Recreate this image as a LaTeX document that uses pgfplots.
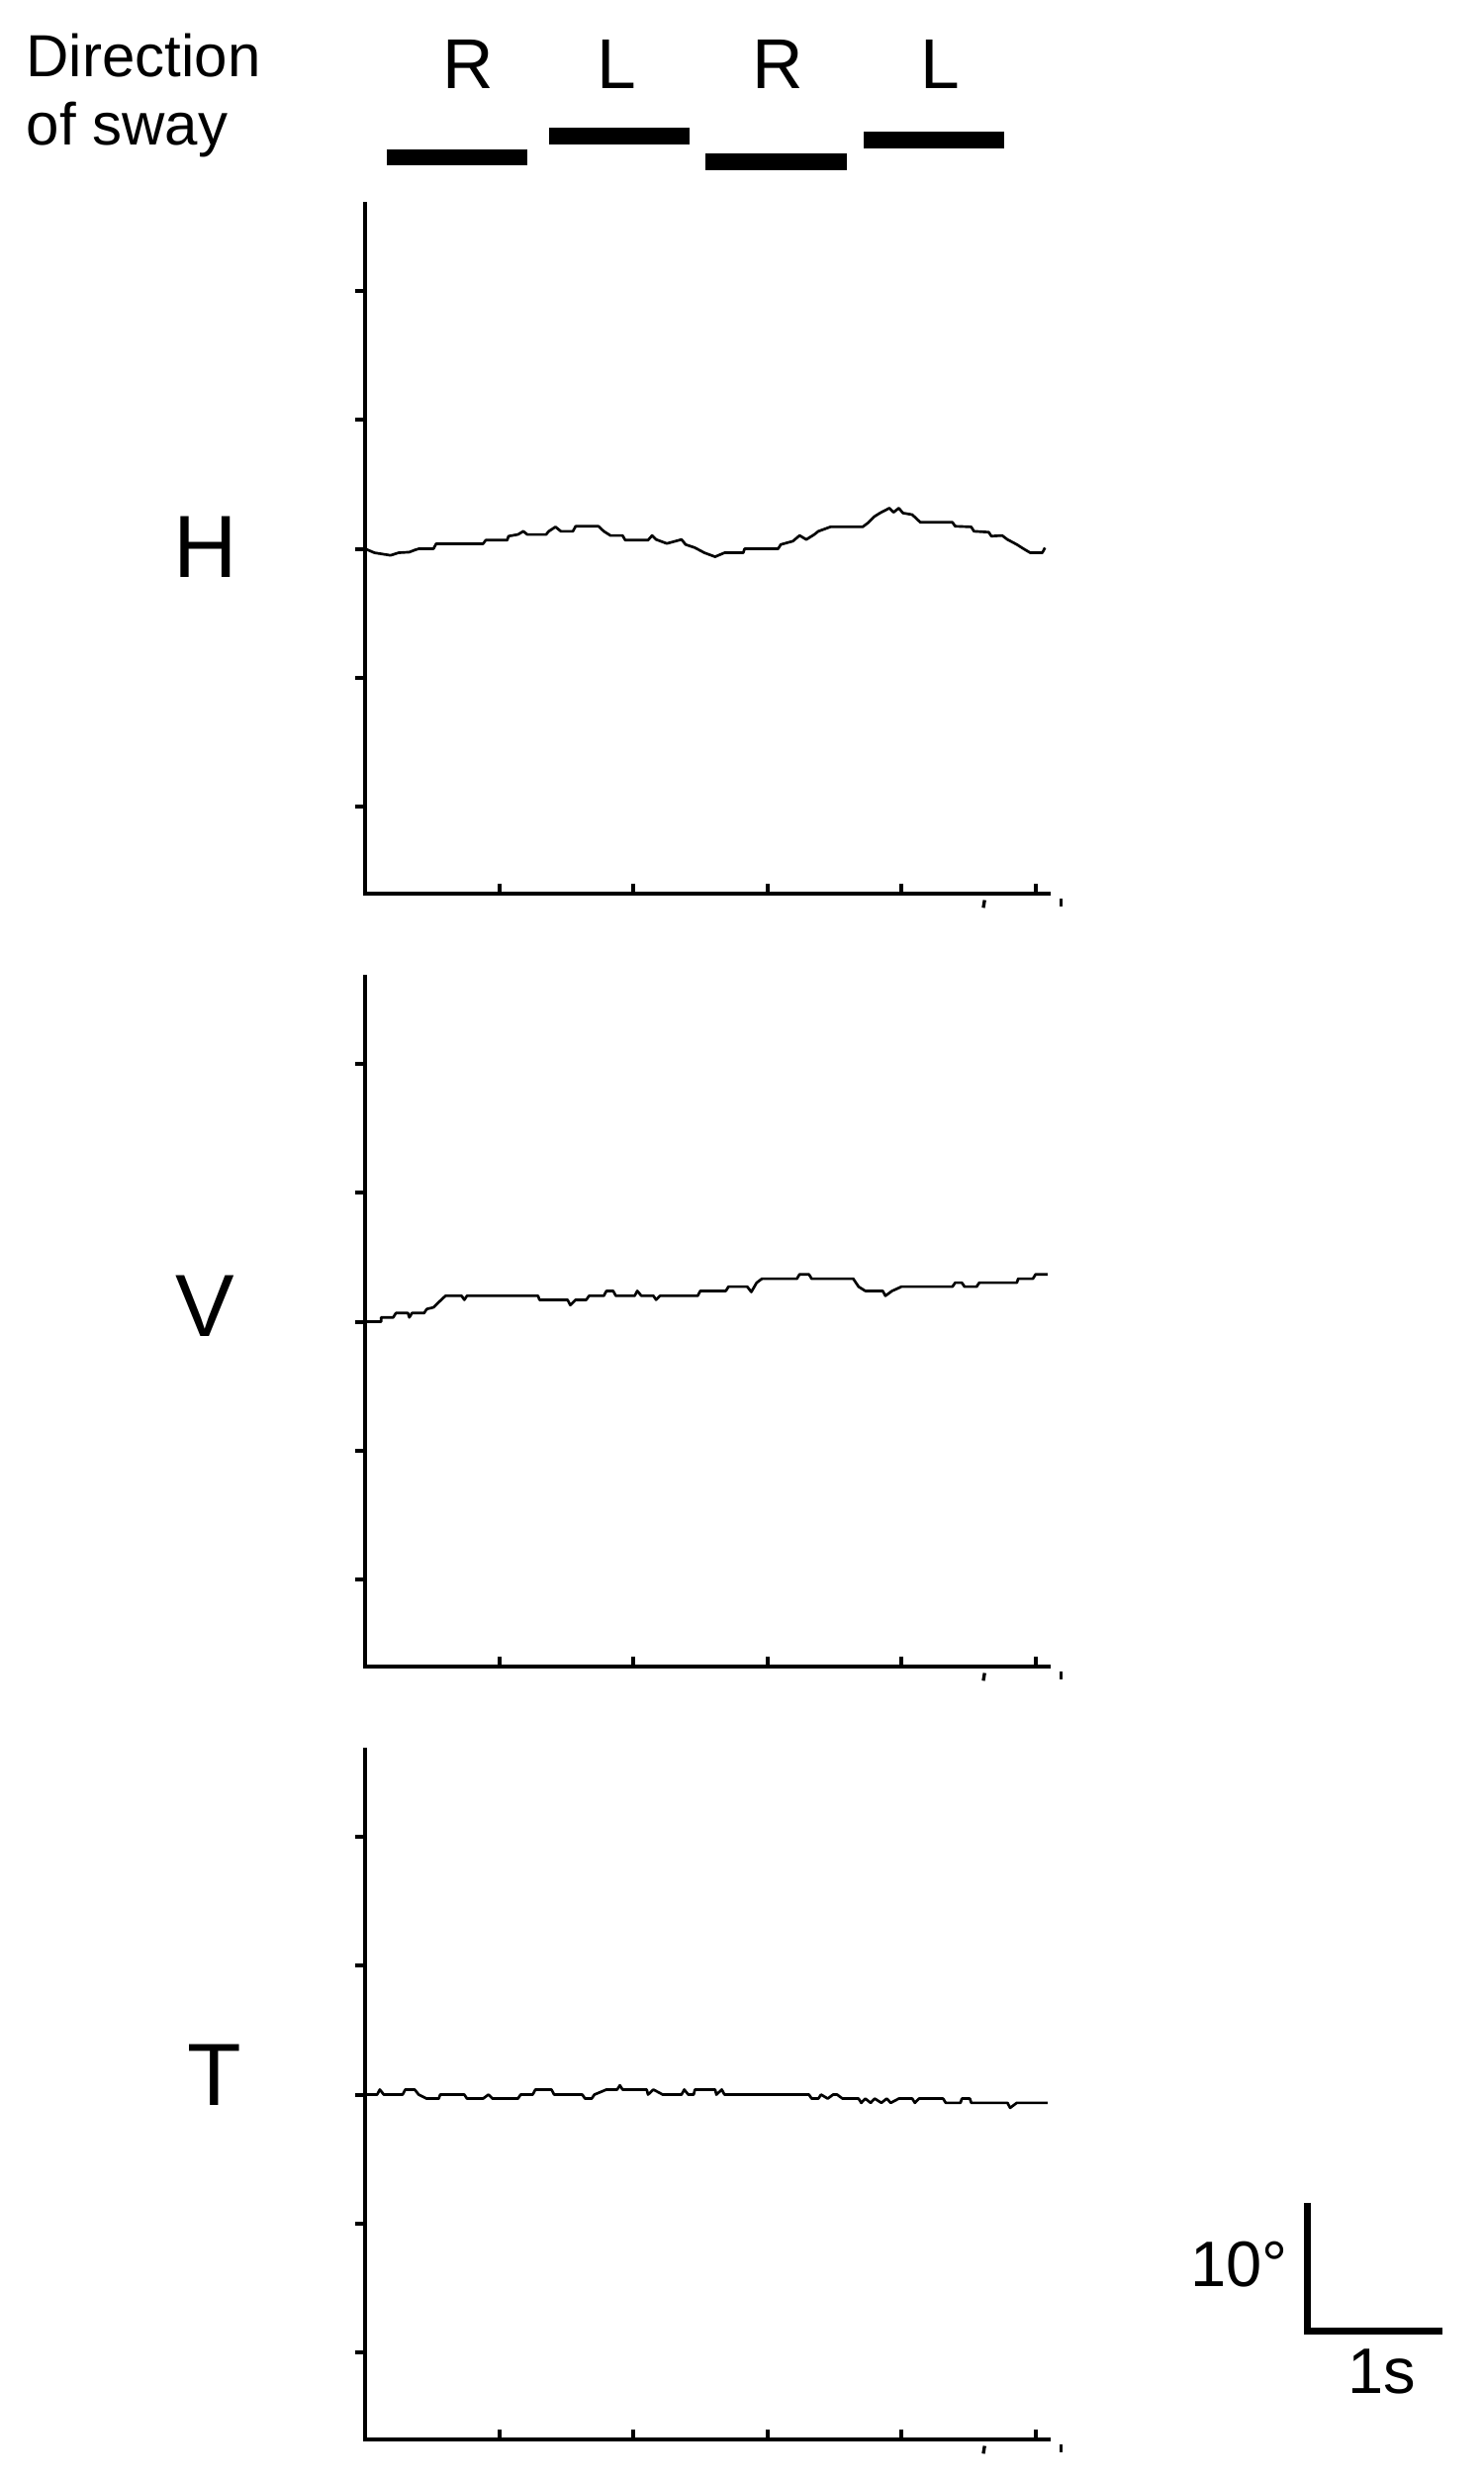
\documentclass[border=0pt]{standalone}
\usepackage{fontspec}
\setmainfont{Liberation Sans}
\usepackage{pgfplots}
\pgfplotsset{compat=1.18}

% one panel of the sway record
\pgfplotsset{
  sway/.style={
    anchor=south west,
    scale only axis,
    width=207.4pt, height=209.1pt,
    xmin=0, xmax=5.1, ymin=-26.8, ymax=26.8,
    axis lines=left,
    axis line style={-, line width=1.2pt, line cap=rect},
    xtick={1,2,3,4,5}, ytick={-20,-10,0,10,20},
    xticklabels={}, yticklabels={},
    xtick align=inside, ytick align=outside,
    major tick length=3pt,
    every tick/.style={black, line width=1.2pt},
    clip=false,
  },
  trace/.style={black, line width=0.8pt, no markers, line join=round},
}

\begin{document}
\begin{tikzpicture}
\path[use as bounding box] (0pt,0pt) rectangle (450pt,-752.7pt);

% H
\begin{axis}[sway, at={(110.7pt,-270.9pt)}]
\addplot[trace] coordinates {
(0,0) (0.07,-0.31) (0.19,-0.51) (0.25,-0.31) (0.33,-0.26) (0.37,-0.10)
(0.40,0) (0.51,0) (0.53,0.39) (0.88,0.39) (0.90,0.67) (1.06,0.67)
(1.07,0.98) (1.14,1.11) (1.18,1.36) (1.21,1.11) (1.35,1.11) (1.37,1.36)
(1.42,1.70) (1.46,1.36) (1.55,1.36) (1.57,1.75) (1.74,1.75) (1.78,1.36)
(1.83,1.03) (1.92,1.03) (1.94,0.67) (2.11,0.67) (2.14,1.03) (2.17,0.72)
(2.25,0.41) (2.36,0.72) (2.39,0.33) (2.46,0.08) (2.53,-0.31) (2.61,-0.62)
(2.68,-0.31) (2.82,-0.31) (2.83,0) (3.08,0) (3.10,0.33) (3.19,0.59)
(3.24,1.03) (3.29,0.72) (3.35,1.11) (3.38,1.36) (3.47,1.70) (3.71,1.70)
(3.75,2.01) (3.80,2.52) (3.84,2.78) (3.91,3.16) (3.94,2.83) (3.98,3.16)
(4.01,2.78) (4.08,2.65) (4.14,2.06) (4.38,2.06) (4.40,1.75) (4.52,1.70)
(4.54,1.36) (4.65,1.29) (4.67,0.98) (4.75,1.03) (4.79,0.72) (4.86,0.33)
(4.91,0) (4.96,-0.31) (5.05,-0.31) (5.07,0.08)
};
\draw[line width=1pt] (axis cs:4.62,-27.3) -- (axis cs:4.61,-27.9);
\draw[line width=1pt] (axis cs:5.19,-27.2) -- (axis cs:5.19,-27.8);
\end{axis}

% V
\begin{axis}[sway, at={(110.7pt,-505.2pt)}]
\addplot[trace] coordinates {
(0,0) (0.12,0) (0.12,0.33) (0.21,0.33) (0.23,0.67) (0.32,0.67) (0.33,0.33)
(0.35,0.67) (0.44,0.67) (0.46,0.98) (0.51,1.11) (0.56,1.62) (0.60,2.01)
(0.72,2.01) (0.74,1.70) (0.76,2.01) (1.29,2.01) (1.30,1.70) (1.51,1.70)
(1.53,1.29) (1.57,1.70) (1.65,1.70) (1.67,2.01) (1.78,2.01) (1.80,2.39)
(1.85,2.39) (1.87,2.01) (2.01,2.01) (2.03,2.39) (2.06,2.01) (2.15,2.01)
(2.17,1.70) (2.20,2.01) (2.48,2.01) (2.50,2.39) (2.69,2.39) (2.71,2.72)
(2.85,2.72) (2.88,2.31) (2.92,3.03) (2.96,3.34) (3.22,3.34) (3.24,3.68)
(3.31,3.68) (3.33,3.34) (3.64,3.34) (3.68,2.72) (3.73,2.39) (3.86,2.39)
(3.88,2.01) (3.93,2.39) (4.00,2.72) (4.38,2.72) (4.40,3.03) (4.45,3.03)
(4.47,2.72) (4.56,2.72) (4.58,3.03) (4.86,3.03) (4.87,3.34) (4.98,3.34)
(5.00,3.68) (5.09,3.68)
};
\draw[line width=1pt] (axis cs:4.62,-27.3) -- (axis cs:4.61,-27.9);
\draw[line width=1pt] (axis cs:5.19,-27.2) -- (axis cs:5.19,-27.8);
\end{axis}

% T
\begin{axis}[sway, at={(110.7pt,-739.5pt)}]
\addplot[trace] coordinates {
(0,0) (0.09,0) (0.11,0.39) (0.14,0) (0.28,0) (0.30,0.39) (0.37,0.39)
(0.40,0) (0.46,-0.31) (0.55,-0.31) (0.56,0) (0.74,0) (0.76,-0.31)
(0.88,-0.31) (0.92,0) (0.95,-0.31) (1.14,-0.31) (1.16,0) (1.25,0)
(1.27,0.39) (1.39,0.39) (1.41,0) (1.62,0) (1.64,-0.31) (1.69,-0.31)
(1.71,0) (1.80,0.39) (1.88,0.39) (1.90,0.72) (1.92,0.39) (2.10,0.39)
(2.11,0) (2.15,0.39) (2.22,0) (2.36,0) (2.38,0.39) (2.41,0) (2.45,0)
(2.46,0.39) (2.61,0.39) (2.62,0) (2.66,0.39) (2.68,0) (3.31,0)
(3.33,-0.31) (3.38,-0.31) (3.40,0) (3.45,-0.31) (3.49,0) (3.52,0)
(3.56,-0.31) (3.68,-0.31) (3.70,-0.64) (3.73,-0.31) (3.77,-0.64)
(3.80,-0.31) (3.85,-0.64) (3.89,-0.31) (3.92,-0.64) (3.98,-0.31)
(4.08,-0.31) (4.10,-0.64) (4.13,-0.31) (4.31,-0.31) (4.33,-0.64)
(4.44,-0.64) (4.45,-0.31) (4.51,-0.31) (4.52,-0.64) (4.79,-0.64)
(4.81,-1.03) (4.86,-0.64) (5.09,-0.64)
};
\draw[line width=1pt] (axis cs:4.62,-27.3) -- (axis cs:4.61,-27.9);
\draw[line width=1pt] (axis cs:5.19,-27.2) -- (axis cs:5.19,-27.8);
% scale bar: 1 s by 10 deg
\draw[line width=2.1pt, line join=miter] (axis cs:7.03,-8.4) -- (axis cs:7.03,-18.4) -- (axis cs:8.03,-18.4);
\end{axis}

% labels and sway direction bars, in pixel units of the reference
\begin{scope}[x=0.3pt, y=-0.3pt]
\node[anchor=base west, inner sep=0, font=\fontsize{18}{21}\selectfont] at (26,77) {Direction};
\node[anchor=base west, inner sep=0, font=\fontsize{18}{21}\selectfont] at (26,146) {of sway};
\foreach \cx/\t in {473/R, 623/L, 786/R, 950/L}
  \node[anchor=base, inner sep=0, font=\fontsize{21.4}{24}\selectfont] at (\cx,89) {\t};
\fill (391,151) rectangle (533,167);
\fill (555,129) rectangle (697,146);
\fill (713,155) rectangle (856,172);
\fill (873,133) rectangle (1015,150);
\node[anchor=base, inner sep=0, font=\fontsize{26.8}{30}\selectfont] at (208,583) {H};
\node[anchor=base, inner sep=0, font=\fontsize{26.8}{30}\selectfont] at (207,1350) {V};
\node[anchor=base, inner sep=0, font=\fontsize{26.8}{30}\selectfont] at (217,2127) {T};
\node[anchor=base east, inner sep=0, font=\fontsize{19.5}{22}\selectfont] at (1302,2310) {10°};
\node[anchor=base, inner sep=0, font=\fontsize{19.5}{22}\selectfont] at (1397,2418) {1s};
\end{scope}
\end{tikzpicture}
\end{document}
